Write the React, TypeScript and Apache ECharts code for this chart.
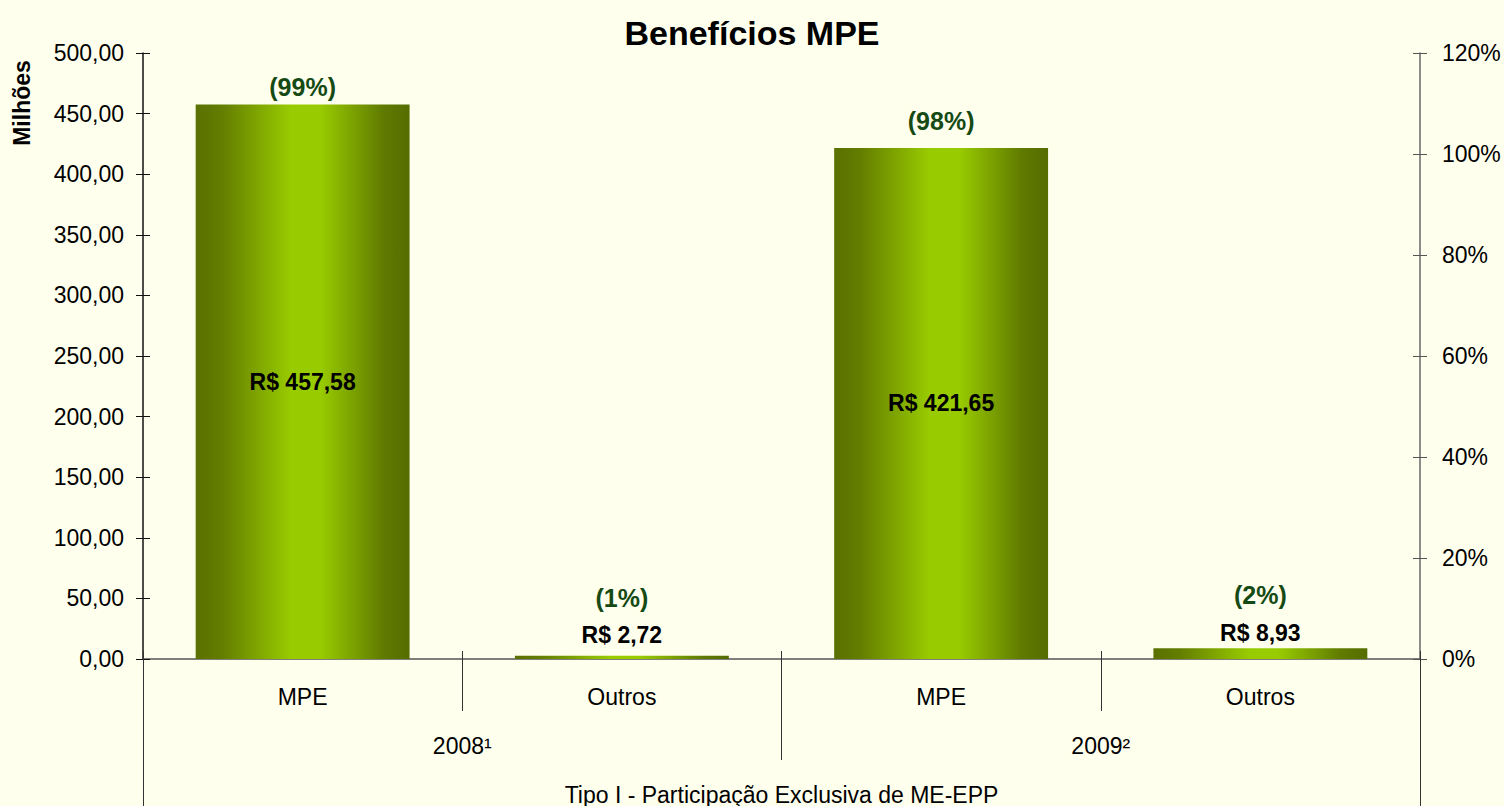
import React, { useEffect, useRef } from "react";
import * as echarts from "echarts";

const categories = ["MPE", "Outros", "MPE", "Outros"];
const years = ["2008¹", "2009²"];
const groupTitle = ["Tipo I - Participação Exclusiva de ME-EPP"];
const values = [457.58, 2.72, 421.65, 8.93];
const valueLabels = ["R$ 457,58", "R$ 2,72", "R$ 421,65", "R$ 8,93"];
const shareLabels = ["(99%)", "(1%)", "(98%)", "(2%)"];

const FONT = "'Liberation Sans', Arial, sans-serif";

export default function App() {
  const ref = useRef<HTMLDivElement>(null);
  useEffect(() => {
    if (!ref.current) return;
    const chart = echarts.init(ref.current, undefined, { renderer: "svg" });
    const barColor = new echarts.graphic.LinearGradient(0, 0, 1, 0, [
      { offset: 0, color: "#5a7000" },
      { offset: 0.12, color: "#637d00" },
      { offset: 0.45, color: "#99cc00" },
      { offset: 0.58, color: "#99cc00" },
      { offset: 0.88, color: "#5f7a00" },
      { offset: 1, color: "#556c00" },
    ]);
    const pctGap = [5, 45, 14, 41];
    const valGap = [0, 9, 0, 4];
    const small = (v: number) => v < 50;
    const option: any = {
      animation: false,
      backgroundColor: "#ffffee",
      textStyle: { fontFamily: FONT },
      title: {
        text: "Benefícios MPE",
        left: "center",
        top: 11,
        textStyle: { fontFamily: FONT, fontSize: 34, fontWeight: "bold", color: "#000" },
      },
      graphic: [
        {
          type: "text",
          x: 22,
          y: 103,
          rotation: Math.PI / 2,
          style: {
            text: "Milhões",
            font: `bold 23px ${FONT}`,
            fill: "#000",
            align: "center",
            verticalAlign: "middle",
          },
        },
      ],
      grid: { left: 143, right: 84, top: 53, bottom: 147, containLabel: false },
      xAxis: [
        {
          type: "category",
          data: categories,
          position: "bottom",
          axisLine: { show: true, lineStyle: { color: "#555", width: 1.5 } },
          axisTick: { show: true, interval: 0, length: 52, lineStyle: { color: "#333" } },
          axisLabel: { margin: 26, fontSize: 23, color: "#000", fontFamily: FONT },
        },
        {
          type: "category",
          data: years,
          position: "bottom",
          axisLine: { show: false },
          axisTick: { show: true, interval: 0, length: 101, lineStyle: { color: "#333" } },
          axisLabel: { margin: 75, fontSize: 23, color: "#000", fontFamily: FONT },
        },
        {
          type: "category",
          data: groupTitle,
          position: "bottom",
          axisLine: { show: false },
          axisTick: { show: true, interval: 0, length: 147, lineStyle: { color: "#333" } },
          axisLabel: { margin: 124, fontSize: 23, color: "#000", fontFamily: FONT },
        },
        {
          type: "category",
          data: categories,
          position: "bottom",
          axisLine: { show: false },
          axisTick: { show: true, inside: true, interval: 0, length: 8, lineStyle: { color: "#333" } },
          axisLabel: { show: false },
        },
      ],
      yAxis: [
        {
          type: "value",
          position: "left",
          min: 0,
          max: 500,
          interval: 50,
          axisLine: { show: true, lineStyle: { color: "#111", width: 1.5 } },
          axisTick: { show: true, length: 7, lineStyle: { color: "#111" } },
          splitLine: { show: false },
          axisLabel: {
            margin: 19,
            fontSize: 23,
            color: "#000",
            fontFamily: FONT,
            formatter: (v: number) => v.toFixed(2).replace(".", ","),
          },
        },
        {
          type: "value",
          position: "right",
          min: 0,
          max: 120,
          interval: 20,
          axisLine: { show: true, lineStyle: { color: "#666", width: 1.5 } },
          axisTick: { show: true, length: 7, lineStyle: { color: "#555" } },
          splitLine: { show: false },
          axisLabel: {
            margin: 22,
            fontSize: 23,
            color: "#000",
            fontFamily: FONT,
            formatter: (v: number) => `${v}%`,
          },
        },
        {
          type: "value",
          position: "left",
          min: 0,
          max: 500,
          interval: 50,
          axisLine: { show: false },
          axisTick: { show: true, inside: true, length: 7, lineStyle: { color: "#111" } },
          splitLine: { show: false },
          axisLabel: { show: false },
        },
        {
          type: "value",
          position: "right",
          min: 0,
          max: 120,
          interval: 20,
          axisLine: { show: false },
          axisTick: { show: true, inside: true, length: 7, lineStyle: { color: "#555" } },
          splitLine: { show: false },
          axisLabel: { show: false },
        },
      ],
      series: [
        {
          type: "bar",
          xAxisIndex: 0,
          yAxisIndex: 0,
          barCategoryGap: "33%",
          itemStyle: { color: barColor },
          data: values.map((v, i) => ({
            value: v,
            label: {
              show: true,
              position: small(v) ? "top" : "inside",
              distance: small(v) ? valGap[i] : 5,
              formatter: valueLabels[i],
              fontSize: 23,
              fontWeight: "bold",
              color: "#000",
              fontFamily: FONT,
            },
          })),
        },
        {
          type: "bar",
          xAxisIndex: 0,
          yAxisIndex: 0,
          barGap: "-100%",
          barCategoryGap: "33%",
          silent: true,
          itemStyle: { color: "rgba(0,0,0,0)" },
          data: values.map((v, i) => ({
            value: v,
            label: {
              show: true,
              position: "top",
              distance: pctGap[i],
              formatter: shareLabels[i],
              fontSize: 25,
              fontWeight: "bold",
              color: "#154a14",
              fontFamily: FONT,
            },
          })),
        },
      ],
    };
    chart.setOption(option);
    return () => chart.dispose();
  }, []);
  return (
    <div
      ref={ref}
      style={{ position: "fixed", left: 0, top: 0, width: 1504, height: 806 }}
    />
  );
}
